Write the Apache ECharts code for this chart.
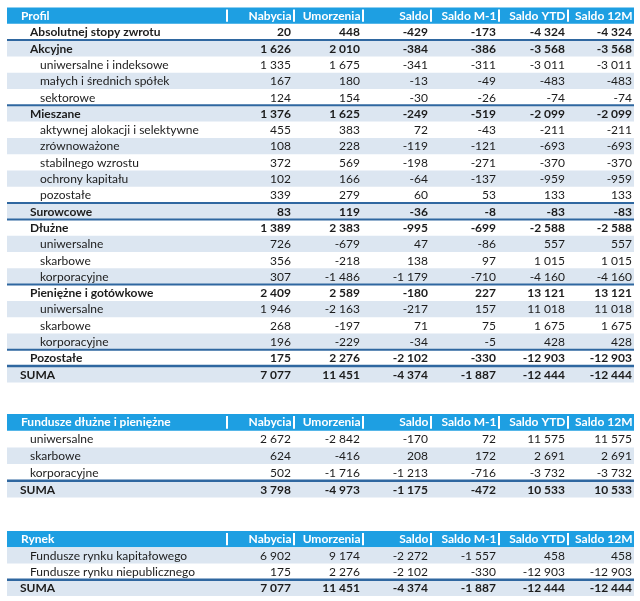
<!DOCTYPE html>
<html>
<head>
<meta charset="utf-8">
<script src="https://cdn.jsdelivr.net/npm/echarts@6/dist/echarts.min.js"></script>
<style>
html,body{margin:0;padding:0;background:#ffffff;}
#chart{width:640px;height:601px;}
</style>
</head>
<body>
<div id="chart"></div>
<script>
// ---------- DATA ----------
const columnHeaders = ['Nabycia', 'Umorzenia', 'Saldo', 'Saldo M-1', 'Saldo YTD', 'Saldo 12M'];

// Table 1: Profil
const t1Title = 'Profil';
const t1Names = ['Absolutnej stopy zwrotu', 'Akcyjne', 'uniwersalne i indeksowe', 'małych i średnich spółek', 'sektorowe',
  'Mieszane', 'aktywnej alokacji i selektywne', 'zrównoważone', 'stabilnego wzrostu', 'ochrony kapitału', 'pozostałe',
  'Surowcowe', 'Dłużne', 'uniwersalne', 'skarbowe', 'korporacyjne',
  'Pieniężne i gotówkowe', 'uniwersalne', 'skarbowe', 'korporacyjne', 'Pozostałe', 'SUMA'];
const t1Kinds = ['cat', 'cat', 'sub', 'sub', 'sub', 'cat', 'sub', 'sub', 'sub', 'sub', 'sub',
  'cat', 'cat', 'sub', 'sub', 'sub', 'cat', 'sub', 'sub', 'sub', 'cat', 'sum'];
const t1Nabycia   = [20, 1626, 1335, 167, 124, 1376, 455, 108, 372, 102, 339, 83, 1389, 726, 356, 307, 2409, 1946, 268, 196, 175, 7077];
const t1Umorzenia = [448, 2010, 1675, 180, 154, 1625, 383, 228, 569, 166, 279, 119, 2383, -679, -218, -1486, 2589, -2163, -197, -229, 2276, 11451];
const t1Saldo     = [-429, -384, -341, -13, -30, -249, 72, -119, -198, -64, 60, -36, -995, 47, 138, -1179, -180, -217, 71, -34, -2102, -4374];
const t1SaldoM1   = [-173, -386, -311, -49, -26, -519, -43, -121, -271, -137, 53, -8, -699, -86, 97, -710, 227, 157, 75, -5, -330, -1887];
const t1SaldoYTD  = [-4324, -3568, -3011, -483, -74, -2099, -211, -693, -370, -959, 133, -83, -2588, 557, 1015, -4160, 13121, 11018, 1675, 428, -12903, -12444];
const t1Saldo12M  = [-4324, -3568, -3011, -483, -74, -2099, -211, -693, -370, -959, 133, -83, -2588, 557, 1015, -4160, 13121, 11018, 1675, 428, -12903, -12444];

// Table 2: Fundusze dłużne i pieniężne
const t2Title = 'Fundusze dłużne i pieniężne';
const t2Names = ['uniwersalne', 'skarbowe', 'korporacyjne', 'SUMA'];
const t2Kinds = ['sub', 'sub', 'sub', 'sum'];
const t2Nabycia   = [2672, 624, 502, 3798];
const t2Umorzenia = [-2842, -416, -1716, -4973];
const t2Saldo     = [-170, 208, -1213, -1175];
const t2SaldoM1   = [72, 172, -716, -472];
const t2SaldoYTD  = [11575, 2691, -3732, 10533];
const t2Saldo12M  = [11575, 2691, -3732, 10533];

// Table 3: Rynek
const t3Title = 'Rynek';
const t3Names = ['Fundusze rynku kapitałowego', 'Fundusze rynku niepublicznego', 'SUMA'];
const t3Kinds = ['sub', 'sub', 'sum'];
const t3Nabycia   = [6902, 175, 7077];
const t3Umorzenia = [9174, 2276, 11451];
const t3Saldo     = [-2272, -2102, -4374];
const t3SaldoM1   = [-1557, -330, -1887];
const t3SaldoYTD  = [458, -12903, -12444];
const t3Saldo12M  = [458, -12903, -12444];

// ---------- LAYOUT / STYLE ----------
const FONT = 'Lato, "Open Sans", sans-serif';
const FS = 12;
const HEADER_BG = '#1e9fe2';
const ALT_BG = '#dce6f1';
const LINE_COLOR = '#2f67a0';
const TEXT_COLOR = '#1c1c1c';
// column right edges in table units (table spans 0..627)
const colEdges = [219, 286, 355, 423, 491, 560, 627];

const tables = [
  { title: t1Title, names: t1Names, kinds: t1Kinds, cols: [t1Nabycia, t1Umorzenia, t1Saldo, t1SaldoM1, t1SaldoYTD, t1Saldo12M], subIndent: 33, catIndent: 23, top: 7.5, rowH: 16.3 },
  { title: t2Title, names: t2Names, kinds: t2Kinds, cols: [t2Nabycia, t2Umorzenia, t2Saldo, t2SaldoM1, t2SaldoYTD, t2Saldo12M], subIndent: 23, catIndent: 23, top: 414, rowH: 16.7 },
  { title: t3Title, names: t3Names, kinds: t3Kinds, cols: [t3Nabycia, t3Umorzenia, t3Saldo, t3SaldoM1, t3SaldoYTD, t3Saldo12M], subIndent: 23, catIndent: 23, top: 531, rowH: 16.25 }
];

function fmt(n) {
  const s = Math.abs(n).toString().replace(/\B(?=(\d{3})+(?!\d))/g, ' ');
  return (n < 0 ? '-' : '') + s;
}

function makeRender(t) {
  const nRows = t.names.length;
  return function (params, api) {
    const r = api.value(1);
    const c0 = api.coord([0, r]);
    const yc = c0[1];
    const h = api.size([0, 1])[1];
    const xL = c0[0];
    const xR = api.coord([627, r])[0];
    const top = yc - h / 2;
    const children = [];
    const ex = colEdges.map(e => api.coord([e, r])[0]);
    if (r === 0) {
      children.push({ type: 'rect', shape: { x: xL, y: top, width: xR - xL, height: h }, style: { fill: HEADER_BG } });
      for (let i = 0; i < ex.length - 1; i++) {
        children.push({ type: 'rect', shape: { x: ex[i], y: top + 2, width: 2, height: h - 4 }, style: { fill: '#ffffff' } });
      }
      children.push({ type: 'text', style: { x: xL + 14, y: yc, text: t.title, fill: '#ffffff', font: 'bold ' + FS + 'px ' + FONT, textAlign: 'left', textVerticalAlign: 'middle' } });
      for (let i = 0; i < columnHeaders.length; i++) {
        children.push({ type: 'text', style: { x: ex[i + 1] - 1.5, y: yc, text: columnHeaders[i], fill: '#ffffff', font: 'bold ' + FS + 'px ' + FONT, textAlign: 'right', textVerticalAlign: 'middle' } });
      }
      return { type: 'group', children };
    }
    const i = r - 1;
    const kind = t.kinds[i];
    const fromEnd = nRows - 1 - i;
    if (fromEnd % 2 === 0) {
      children.push({ type: 'rect', shape: { x: xL, y: top, width: xR - xL, height: h }, style: { fill: ALT_BG } });
    }
    const bold = kind !== 'sub';
    const font = (bold ? 'bold ' : '') + FS + 'px ' + FONT;
    const indent = kind === 'sum' ? 13 : (kind === 'cat' ? t.catIndent : t.subIndent);
    children.push({ type: 'text', style: { x: xL + indent, y: yc + 0.5, text: t.names[i], fill: TEXT_COLOR, font, textAlign: 'left', textVerticalAlign: 'middle' } });
    for (let c = 0; c < t.cols.length; c++) {
      children.push({ type: 'text', style: { x: ex[c + 1] - 2, y: yc + 0.5, text: fmt(t.cols[c][i]), fill: TEXT_COLOR, font, textAlign: 'right', textVerticalAlign: 'middle' } });
    }
    if ((kind === 'cat' && i > 0) || kind === 'sum') {
      const lw = kind === 'sum' ? 2.5 : 2;
      children.push({ type: 'line', shape: { x1: xL, y1: top, x2: xR, y2: top }, style: { stroke: LINE_COLOR, lineWidth: lw } });
    }
    return { type: 'group', children };
  };
}

const grids = [], xAxes = [], yAxes = [], series = [];
tables.forEach((t, k) => {
  const n = t.names.length + 1;
  grids.push({ left: 7, width: 627, top: t.top, height: t.rowH * n });
  xAxes.push({ type: 'value', gridIndex: k, min: 0, max: 627, show: false });
  yAxes.push({ type: 'category', gridIndex: k, inverse: true, show: false, data: Array.from({ length: n }, (_, j) => String(j)) });
  series.push({
    type: 'custom', xAxisIndex: k, yAxisIndex: k,
    renderItem: makeRender(t),
    encode: { x: 0, y: 1 },
    data: Array.from({ length: n }, (_, j) => [0, j]),
    silent: true,
    clip: false
  });
});

const chart = echarts.init(document.getElementById('chart'), null, { renderer: 'canvas' });
chart.setOption({
  backgroundColor: '#ffffff',
  animation: false,
  grid: grids,
  xAxis: xAxes,
  yAxis: yAxes,
  series: series
});
</script>
</body>
</html>
